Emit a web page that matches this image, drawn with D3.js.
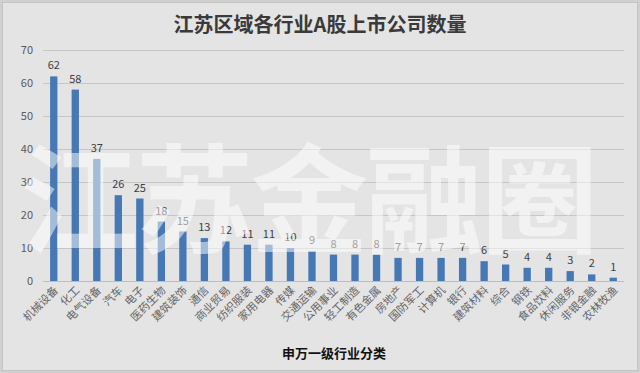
<!DOCTYPE html>
<html><head><meta charset="utf-8">
<script src="https://cdn.jsdelivr.net/npm/d3@7/dist/d3.min.js"></script>
<style>body{margin:0;background:#fff}svg{display:block}</style>
</head><body>
<svg id="c" width="640" height="373"></svg>
<script>
const categories = ["机械设备","化工","电气设备","汽车","电子","医药生物","建筑装饰","通信","商业贸易","纺织服装","家用电器","传媒","交通运输","公用事业","轻工制造","有色金属","房地产","国防军工","计算机","银行","建筑材料","综合","钢铁","食品饮料","休闲服务","非银金融","农林牧渔"];
const values = [62,58,37,26,25,18,15,13,12,11,11,10,9,8,8,8,7,7,7,7,6,5,4,4,3,2,1];
const yTicks = [0,10,20,30,40,50,60,70];
const title = "江苏区域各行业A股上市公司数量";
const xTitle = "申万一级行业分类";
const watermark = "江苏金融圈";

const svg = d3.select("#c");
const W = 640, H = 373;
const font = "'Noto Sans CJK SC', 'Noto Sans', sans-serif";

svg.append("rect").attr("x",0).attr("y",0).attr("width",W).attr("height",H).attr("fill","#d0d0d0");
svg.append("rect").attr("x",2.5).attr("y",2.5).attr("width",W-5).attr("height",H-5)
  .attr("fill","#e4e4e5").attr("stroke","#c4c4c4");

const x = d3.scaleBand().domain(categories).range([43,624]).paddingInner(0.66).paddingOuter(0.33);
const y = d3.scaleLinear().domain([0,70]).range([281,50]);

// grid
svg.append("g").selectAll("line").data(yTicks.slice(1)).join("line")
  .attr("x1",43).attr("x2",624).attr("y1",d=>Math.round(y(d))+0.5).attr("y2",d=>Math.round(y(d))+0.5)
  .attr("stroke","#c6c6c6").attr("stroke-width",1);

// y axis
const ya = d3.axisLeft(y).tickValues(yTicks).tickSize(0).tickPadding(0);
const yg = svg.append("g").attr("transform","translate(33,0)").call(ya);
yg.select(".domain").remove();
yg.selectAll("text").attr("font-family",font).attr("font-size",11).attr("fill","#595959");

// bars
svg.append("g").selectAll("rect").data(values).join("rect")
  .attr("x",(d,i)=>x(categories[i])).attr("width",x.bandwidth())
  .attr("y",d=>y(d)).attr("height",d=>y(0)-y(d))
  .attr("fill","#4678b4");

// x axis line
svg.append("line").attr("x1",43).attr("x2",624).attr("y1",281.5).attr("y2",281.5).attr("stroke","#bdbdbd");

// value labels
svg.append("g").selectAll("text").data(values).join("text")
  .attr("x",(d,i)=>x(categories[i])+x.bandwidth()/2).attr("y",d=>y(d)-7)
  .attr("text-anchor","middle").attr("font-family",font).attr("font-size",11).attr("fill","#404040")
  .text(d=>d);

// x labels
const xa = d3.axisBottom(x).tickSize(0).tickPadding(0);
const xg = svg.append("g").attr("transform","translate(0,281)").call(xa);
xg.select(".domain").remove();
xg.selectAll("text")
  .attr("font-family",font).attr("font-size",11).attr("fill","#666")
  .attr("text-anchor","end").attr("dy",0).attr("y",0)
  .attr("transform","translate(5,10) rotate(-45)");

// title
svg.append("text").attr("x",320).attr("y",32).attr("text-anchor","middle")
  .attr("font-family",font).attr("font-size",20).attr("font-weight",700).attr("fill","#3a3a3a").text(title);

// x title
svg.append("text").attr("x",334).attr("y",358).attr("text-anchor","middle")
  .attr("font-family",font).attr("font-size",13).attr("font-weight",700).attr("fill","#111").text(xTitle);

// watermark
svg.append("text").attr("x",308).attr("y",244).attr("text-anchor","middle")
  .attr("font-family",font).attr("font-size",118).attr("font-weight",700)
  .attr("letter-spacing",-3)
  .attr("fill","#ffffff").attr("fill-opacity",0.5).text(watermark);
</script>
</body></html>
